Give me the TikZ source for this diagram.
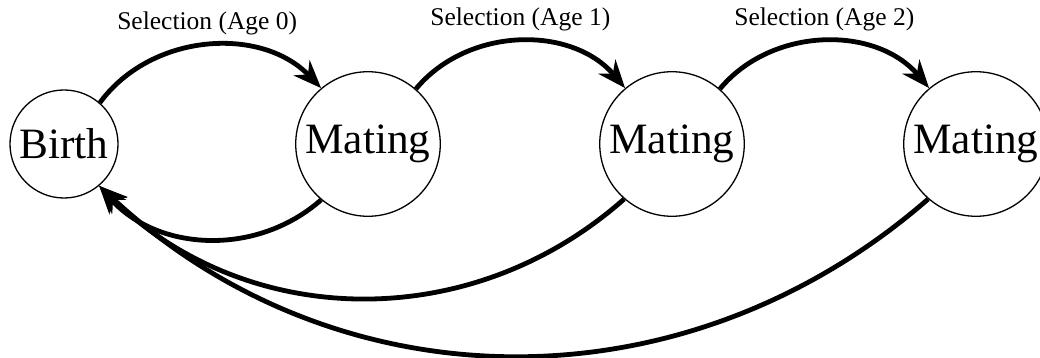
\documentclass[tikz,border=0pt]{standalone}
\usepackage{fontspec}
\setmainfont{Liberation Serif}
\usepackage{tikz}
\usetikzlibrary{arrows.meta, positioning}

\begin{document}
\begin{tikzpicture}[x=1pt, y=1pt]
    % Define styles
    \tikzstyle{stage} = [circle, draw, line width=1.3pt, inner sep=5.5pt, font=\fontsize{43.3}{50}\selectfont]
    \tikzstyle{line} = [draw, line width=4.8pt, -{Stealth[length=28pt, width=22pt, inset=9pt]}]
    \tikzstyle{sel} = [above, inner sep=8.5pt, font=\fontsize{25.5}{30}\selectfont]

    % Fix the picture size
    \useasboundingbox (0,0) rectangle (1040,358);

    % Stages
    \node[stage] (Birth) at (64,214) {Birth};
    \node[stage] (Mating1) at (368,214) {Mating};
    \node[stage] (Mating2) at (672,214) {Mating};
    \node[stage] (Mating3) at (976,214) {Mating};

    % Selection arcs over the top
    \draw[line] (Birth.49) to[bend left=50] node[sel] {Selection (Age 0)} (Mating1.130);
    \draw[line] (Mating1.49) to[bend left=50] node[sel] {Selection (Age 1)} (Mating2.130);
    \draw[line] (Mating2.49) to[bend left=50] node[sel] {Selection (Age 2)} (Mating3.130);

    % Return arcs back to birth
    \draw[line] (Mating1.-130) to[bend left=45] (Birth.-50);
    \draw[line] (Mating2.-131) to[bend left=43] (Birth.-50);
    \draw[line] (Mating3.-131) to[bend left=42] (Birth.-50);

\end{tikzpicture}
\end{document}
